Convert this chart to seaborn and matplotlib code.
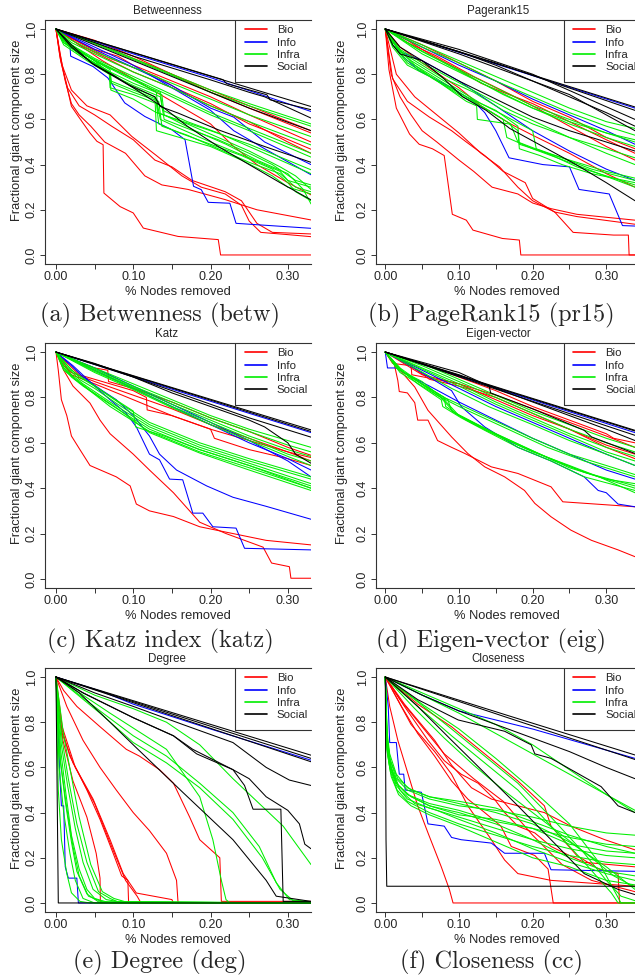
import matplotlib
matplotlib.use("Agg")
import matplotlib.pyplot as plt
from matplotlib.lines import Line2D
import seaborn as sns
import pandas as pd

# ---------------- data: (x, y) points of each curve ----------------
# (a) Betweenness
BETW_SOCIAL = [
    [(0, 1), (0.15, 0.843), (0.33, 0.657)],
    [(0, 1), (0.216, 0.776), (0.221, 0.758), (0.273, 0.709), (0.277, 0.687), (0.33, 0.643)],
    [(0, 1), (0.1, 0.88), (0.2, 0.775), (0.25, 0.72), (0.27, 0.70), (0.33, 0.606)],
    [(0, 1), (0.05, 0.93), (0.1, 0.86), (0.15, 0.79), (0.2, 0.72), (0.25, 0.65), (0.33, 0.55)],
    [(0, 1), (0.02, 0.93), (0.046, 0.85), (0.072, 0.80), (0.094, 0.754), (0.128, 0.70), (0.135, 0.657),
     (0.158, 0.628), (0.21, 0.554), (0.27, 0.48), (0.33, 0.41)],
    [(0, 1), (0.02, 0.92), (0.05, 0.84), (0.1, 0.74), (0.14, 0.65), (0.17, 0.57), (0.21, 0.48),
     (0.25, 0.40), (0.29, 0.32), (0.33, 0.244)],
]
BETW_INFO = [
    [(0, 1), (0.1, 0.89), (0.2, 0.785), (0.33, 0.635)],
    [(0, 1), (0.018, 0.93), (0.019, 0.88), (0.048, 0.834), (0.067, 0.784), (0.089, 0.673), (0.115, 0.613),
     (0.15, 0.554), (0.167, 0.51), (0.178, 0.304), (0.188, 0.289), (0.197, 0.233), (0.225, 0.229),
     (0.233, 0.14), (0.33, 0.118)],
    [(0, 1), (0.05, 0.91), (0.1, 0.83), (0.15, 0.75), (0.17, 0.71), (0.2, 0.65), (0.23, 0.61),
     (0.27, 0.50), (0.33, 0.40)],
    [(0, 1), (0.05, 0.92), (0.1, 0.84), (0.15, 0.74), (0.2, 0.64), (0.23, 0.55), (0.27, 0.47), (0.33, 0.355)],
]
BETW_BIO = [
    [(0, 1), (0.005, 0.894), (0.012, 0.776), (0.02, 0.658), (0.029, 0.613), (0.044, 0.54), (0.053, 0.503),
     (0.061, 0.488), (0.062, 0.274), (0.083, 0.214), (0.1, 0.186), (0.113, 0.119), (0.158, 0.082),
     (0.21, 0.068), (0.213, 0.0), (0.34, 0.0)],
    [(0, 1), (0.005, 0.88), (0.012, 0.77), (0.02, 0.67), (0.03, 0.62), (0.045, 0.57), (0.063, 0.50),
     (0.09, 0.45), (0.115, 0.35), (0.137, 0.31), (0.171, 0.29), (0.219, 0.245), (0.26, 0.20), (0.33, 0.155)],
    [(0, 1), (0.006, 0.86), (0.015, 0.74), (0.03, 0.66), (0.05, 0.62), (0.072, 0.57), (0.1, 0.51),
     (0.128, 0.42), (0.15, 0.39), (0.176, 0.33), (0.219, 0.28), (0.24, 0.24), (0.26, 0.14), (0.28, 0.10),
     (0.33, 0.093)],
    [(0, 1), (0.008, 0.84), (0.02, 0.73), (0.04, 0.66), (0.07, 0.62), (0.098, 0.525), (0.13, 0.44),
     (0.163, 0.35), (0.188, 0.30), (0.219, 0.27), (0.24, 0.22), (0.25, 0.15), (0.265, 0.10), (0.30, 0.09),
     (0.33, 0.081)],
    [(0, 1), (0.03, 0.93), (0.06, 0.86), (0.1, 0.78), (0.15, 0.68), (0.2, 0.58), (0.23, 0.48), (0.26, 0.40),
     (0.3, 0.32), (0.33, 0.266)],
    [(0, 1), (0.05, 0.95), (0.1, 0.88), (0.15, 0.80), (0.2, 0.72), (0.25, 0.65), (0.33, 0.54)],
    [(0, 1), (0.02, 0.96), (0.05, 0.91), (0.08, 0.88), (0.1, 0.84), (0.15, 0.77), (0.2, 0.70), (0.25, 0.62),
     (0.33, 0.50)],
    [(0, 1), (0.03, 0.94), (0.07, 0.87), (0.1, 0.83), (0.13, 0.79), (0.16, 0.73), (0.2, 0.67), (0.25, 0.58),
     (0.28, 0.54), (0.33, 0.468)],
    [(0, 1), (0.03, 0.93), (0.06, 0.88), (0.1, 0.81), (0.15, 0.74), (0.2, 0.66), (0.25, 0.59), (0.3, 0.50),
     (0.33, 0.45)],
    [(0, 1), (0.05, 0.94), (0.1, 0.87), (0.15, 0.80), (0.2, 0.73), (0.25, 0.66), (0.33, 0.55)],
]
BETW_INFRA = [
    [(0, 1), (0.05, 0.94), (0.1, 0.87), (0.15, 0.80), (0.2, 0.73), (0.25, 0.67), (0.33, 0.58)],
    [(0, 1), (0.05, 0.935), (0.1, 0.865), (0.15, 0.795), (0.2, 0.72), (0.25, 0.66), (0.33, 0.57)],
    [(0, 1), (0.02, 0.95), (0.05, 0.90), (0.1, 0.83), (0.15, 0.76), (0.2, 0.69), (0.25, 0.62), (0.33, 0.524)],
    [(0, 1), (0.02, 0.94), (0.05, 0.89), (0.1, 0.81), (0.15, 0.74), (0.2, 0.66), (0.25, 0.59), (0.33, 0.487)],
    [(0, 1), (0.02, 0.93), (0.05, 0.87), (0.1, 0.79), (0.15, 0.71), (0.2, 0.63), (0.25, 0.56), (0.33, 0.45)],
    [(0, 1), (0.02, 0.925), (0.05, 0.86), (0.1, 0.78), (0.15, 0.70), (0.2, 0.62), (0.25, 0.55), (0.33, 0.433)],
    [(0, 1), (0.02, 0.93), (0.05, 0.86), (0.07, 0.80), (0.071, 0.73), (0.1, 0.69), (0.13, 0.63), (0.2, 0.55),
     (0.25, 0.49), (0.33, 0.377)],
    [(0, 1), (0.01, 0.95), (0.03, 0.90), (0.07, 0.82), (0.071, 0.77), (0.1, 0.73), (0.13, 0.69), (0.135, 0.60),
     (0.16, 0.56), (0.2, 0.50), (0.25, 0.43), (0.29, 0.37), (0.3, 0.33), (0.33, 0.30)],
    [(0, 1), (0.01, 0.95), (0.03, 0.89), (0.07, 0.81), (0.072, 0.76), (0.1, 0.72), (0.133, 0.68), (0.137, 0.57),
     (0.17, 0.53), (0.21, 0.47), (0.25, 0.41), (0.29, 0.36), (0.31, 0.30), (0.33, 0.28)],
    [(0, 1), (0.01, 0.94), (0.03, 0.89), (0.06, 0.83), (0.1, 0.74), (0.128, 0.70), (0.13, 0.55), (0.16, 0.52),
     (0.2, 0.48), (0.24, 0.42), (0.28, 0.35), (0.30, 0.30), (0.33, 0.27)],
    [(0, 1), (0.01, 0.94), (0.04, 0.87), (0.07, 0.80), (0.1, 0.75), (0.135, 0.70), (0.14, 0.60), (0.17, 0.56),
     (0.21, 0.51), (0.25, 0.45), (0.28, 0.40), (0.31, 0.33), (0.33, 0.31)],
    [(0, 1), (0.01, 0.93), (0.04, 0.86), (0.069, 0.80), (0.07, 0.74), (0.1, 0.71), (0.13, 0.67), (0.133, 0.58),
     (0.16, 0.54), (0.2, 0.49), (0.24, 0.44), (0.28, 0.38), (0.3, 0.32), (0.31, 0.28), (0.33, 0.24)],
    [(0, 1), (0.015, 0.93), (0.04, 0.87), (0.07, 0.81), (0.1, 0.76), (0.137, 0.71), (0.14, 0.62), (0.18, 0.55),
     (0.22, 0.49), (0.26, 0.42), (0.3, 0.36), (0.32, 0.29), (0.33, 0.226)],
    [(0, 1), (0.01, 0.95), (0.03, 0.90), (0.07, 0.83), (0.1, 0.78), (0.13, 0.72), (0.132, 0.63), (0.17, 0.58),
     (0.21, 0.52), (0.25, 0.46), (0.29, 0.39), (0.31, 0.35), (0.33, 0.29)],
    [(0, 1), (0.02, 0.93), (0.05, 0.86), (0.09, 0.79), (0.12, 0.74), (0.135, 0.72), (0.138, 0.64), (0.17, 0.59),
     (0.21, 0.54), (0.25, 0.48), (0.29, 0.42), (0.33, 0.36)],
]

# (b) Pagerank15
PR15_SOCIAL = [
    [(0, 1), (0.17, 0.827), (0.339, 0.655)],
    [(0, 1), (0.15, 0.85), (0.339, 0.64)],
    [(0, 1), (0.1, 0.91), (0.2, 0.80), (0.339, 0.60)],
    [(0, 1), (0.05, 0.95), (0.1, 0.90), (0.15, 0.84), (0.2, 0.77), (0.25, 0.70), (0.3, 0.63), (0.339, 0.57)],
    [(0, 1), (0.1, 0.89), (0.2, 0.77), (0.25, 0.71), (0.3, 0.62), (0.339, 0.55)],
    [(0, 1), (0.02, 0.92), (0.05, 0.86), (0.1, 0.77), (0.15, 0.69), (0.2, 0.61), (0.25, 0.55), (0.3, 0.50),
     (0.339, 0.46)],
    [(0, 1), (0.01, 0.93), (0.02, 0.89), (0.05, 0.86), (0.078, 0.785), (0.105, 0.70), (0.137, 0.64),
     (0.169, 0.56), (0.214, 0.48), (0.259, 0.40), (0.3, 0.32), (0.339, 0.24)],
]
PR15_INFO = [
    [(0, 1), (0.17, 0.825), (0.339, 0.65)],
    [(0, 1), (0.01, 0.95), (0.02, 0.89), (0.046, 0.815), (0.09, 0.74), (0.12, 0.68), (0.135, 0.63),
     (0.15, 0.55), (0.168, 0.43), (0.214, 0.40), (0.25, 0.39), (0.263, 0.29), (0.304, 0.27), (0.322, 0.13),
     (0.339, 0.128)],
    [(0, 1), (0.05, 0.92), (0.1, 0.84), (0.15, 0.77), (0.2, 0.69), (0.25, 0.62), (0.3, 0.55), (0.339, 0.49)],
    [(0, 1), (0.02, 0.90), (0.05, 0.86), (0.1, 0.77), (0.15, 0.66), (0.2, 0.55), (0.25, 0.46), (0.3, 0.38),
     (0.339, 0.33)],
]
PR15_BIO = [
    [(0, 1), (0.005, 0.82), (0.015, 0.65), (0.033, 0.535), (0.046, 0.49), (0.064, 0.47), (0.08, 0.44),
     (0.091, 0.18), (0.11, 0.154), (0.119, 0.11), (0.159, 0.073), (0.182, 0.066), (0.184, 0.0), (0.339, 0.0)],
    [(0, 1), (0.008, 0.80), (0.02, 0.70), (0.035, 0.62), (0.05, 0.55), (0.07, 0.50), (0.1, 0.42), (0.12, 0.37),
     (0.145, 0.30), (0.18, 0.27), (0.2, 0.23), (0.225, 0.205), (0.26, 0.18), (0.339, 0.154)],
    [(0, 1), (0.01, 0.78), (0.03, 0.68), (0.06, 0.61), (0.09, 0.55), (0.11, 0.50), (0.135, 0.44), (0.16, 0.37),
     (0.19, 0.32), (0.2, 0.25), (0.23, 0.19), (0.26, 0.17), (0.339, 0.136)],
    [(0, 1), (0.015, 0.80), (0.04, 0.70), (0.07, 0.62), (0.1, 0.54), (0.13, 0.45), (0.155, 0.39), (0.18, 0.30),
     (0.2, 0.24), (0.23, 0.19), (0.255, 0.10), (0.31, 0.088), (0.33, 0.088), (0.331, 0.0), (0.339, 0.0)],
    [(0, 1), (0.05, 0.93), (0.1, 0.85), (0.15, 0.77), (0.2, 0.68), (0.25, 0.61), (0.3, 0.52), (0.339, 0.47)],
    [(0, 1), (0.03, 0.95), (0.06, 0.89), (0.1, 0.82), (0.13, 0.76), (0.16, 0.72), (0.2, 0.67), (0.25, 0.59),
     (0.3, 0.51), (0.339, 0.45)],
    [(0, 1), (0.03, 0.94), (0.07, 0.88), (0.12, 0.79), (0.17, 0.71), (0.2, 0.66), (0.25, 0.57), (0.3, 0.48),
     (0.339, 0.42)],
    [(0, 1), (0.02, 0.92), (0.05, 0.85), (0.1, 0.74), (0.13, 0.66), (0.17, 0.58), (0.2, 0.53), (0.25, 0.45),
     (0.3, 0.36), (0.339, 0.30)],
]
PR15_INFRA = [
    [(0, 1), (0.05, 0.90), (0.1, 0.82), (0.15, 0.74), (0.2, 0.66), (0.25, 0.60), (0.3, 0.54), (0.339, 0.50)],
    [(0, 1), (0.05, 0.89), (0.1, 0.81), (0.15, 0.73), (0.2, 0.65), (0.25, 0.58), (0.3, 0.52), (0.339, 0.48)],
    [(0, 1), (0.04, 0.92), (0.08, 0.85), (0.12, 0.78), (0.16, 0.71), (0.2, 0.65), (0.25, 0.59), (0.3, 0.54),
     (0.339, 0.51)],
    [(0, 1), (0.05, 0.92), (0.1, 0.85), (0.15, 0.77), (0.2, 0.70), (0.25, 0.63), (0.3, 0.57), (0.339, 0.53)],
    [(0, 1), (0.05, 0.93), (0.1, 0.86), (0.15, 0.79), (0.2, 0.72), (0.25, 0.65), (0.3, 0.59), (0.339, 0.56)],
    [(0, 1), (0.01, 0.93), (0.03, 0.85), (0.064, 0.785), (0.11, 0.68), (0.124, 0.66), (0.125, 0.60),
     (0.168, 0.58), (0.18, 0.55), (0.182, 0.47), (0.21, 0.44), (0.24, 0.40), (0.28, 0.36), (0.339, 0.32)],
    [(0, 1), (0.01, 0.92), (0.03, 0.84), (0.06, 0.79), (0.1, 0.71), (0.14, 0.64), (0.17, 0.58), (0.18, 0.50),
     (0.22, 0.45), (0.26, 0.39), (0.3, 0.35), (0.339, 0.31)],
    [(0, 1), (0.01, 0.94), (0.035, 0.86), (0.07, 0.79), (0.1, 0.73), (0.13, 0.67), (0.16, 0.62), (0.2, 0.55),
     (0.205, 0.47), (0.24, 0.43), (0.28, 0.38), (0.339, 0.33)],
    [(0, 1), (0.015, 0.92), (0.04, 0.84), (0.065, 0.78), (0.11, 0.70), (0.15, 0.64), (0.18, 0.57),
     (0.182, 0.49), (0.22, 0.45), (0.27, 0.40), (0.3, 0.37), (0.339, 0.34)],
    [(0, 1), (0.01, 0.93), (0.03, 0.86), (0.06, 0.80), (0.1, 0.72), (0.14, 0.64), (0.16, 0.60), (0.165, 0.52),
     (0.2, 0.47), (0.25, 0.41), (0.29, 0.36), (0.339, 0.30)],
    [(0, 1), (0.02, 0.90), (0.05, 0.84), (0.08, 0.78), (0.12, 0.72), (0.16, 0.64), (0.2, 0.58), (0.25, 0.52),
     (0.3, 0.45), (0.339, 0.40)],
    [(0, 1), (0.02, 0.91), (0.05, 0.85), (0.09, 0.78), (0.13, 0.71), (0.17, 0.64), (0.21, 0.58), (0.25, 0.52),
     (0.3, 0.47), (0.339, 0.43)],
]

# (c) Katz
KATZ_SOCIAL = [
    [(0, 1), (0.17, 0.823), (0.33, 0.657)],
    [(0, 1), (0.17, 0.82), (0.33, 0.65)],
    [(0, 1), (0.1, 0.89), (0.2, 0.77), (0.25, 0.71), (0.33, 0.625)],
    [(0, 1), (0.05, 0.95), (0.1, 0.89), (0.15, 0.82), (0.2, 0.76), (0.25, 0.70), (0.27, 0.67), (0.3, 0.60),
     (0.31, 0.55), (0.33, 0.51)],
]
KATZ_INFO = [
    [(0, 1), (0.17, 0.815), (0.33, 0.645)],
    [(0, 1), (0.02, 0.94), (0.035, 0.89), (0.06, 0.83), (0.078, 0.79), (0.1, 0.72), (0.121, 0.63),
     (0.134, 0.55), (0.156, 0.48), (0.195, 0.41), (0.229, 0.36), (0.272, 0.32), (0.33, 0.263)],
    [(0, 1), (0.022, 0.94), (0.05, 0.85), (0.07, 0.79), (0.091, 0.73), (0.104, 0.67), (0.121, 0.55),
     (0.134, 0.525), (0.147, 0.44), (0.164, 0.437), (0.177, 0.29), (0.19, 0.29), (0.203, 0.23),
     (0.233, 0.224), (0.244, 0.135), (0.33, 0.128)],
    [(0, 1), (0.05, 0.93), (0.1, 0.85), (0.15, 0.77), (0.2, 0.69), (0.25, 0.61), (0.3, 0.52), (0.33, 0.45)],
    [(0, 1), (0.05, 0.92), (0.1, 0.84), (0.15, 0.76), (0.2, 0.68), (0.25, 0.60), (0.3, 0.53), (0.33, 0.48)],
]
KATZ_BIO = [
    [(0, 1), (0.003, 0.92), (0.007, 0.79), (0.014, 0.72), (0.02, 0.63), (0.031, 0.57), (0.044, 0.50),
     (0.078, 0.45), (0.096, 0.41), (0.104, 0.33), (0.121, 0.30), (0.152, 0.275), (0.186, 0.23),
     (0.229, 0.20), (0.272, 0.17), (0.33, 0.15)],
    [(0, 1), (0.01, 0.92), (0.022, 0.85), (0.044, 0.775), (0.057, 0.70), (0.07, 0.64), (0.1, 0.55),
     (0.121, 0.48), (0.152, 0.38), (0.186, 0.25), (0.22, 0.20), (0.268, 0.14), (0.279, 0.07),
     (0.302, 0.054), (0.304, 0.003), (0.33, 0.003)],
    [(0, 1), (0.02, 0.97), (0.05, 0.93), (0.067, 0.92), (0.068, 0.87), (0.1, 0.84), (0.15, 0.78), (0.2, 0.71),
     (0.25, 0.65), (0.3, 0.58), (0.33, 0.545)],
    [(0, 1), (0.03, 0.90), (0.06, 0.87), (0.1, 0.83), (0.117, 0.80), (0.118, 0.745), (0.15, 0.72),
     (0.2, 0.66), (0.25, 0.61), (0.3, 0.56), (0.33, 0.52)],
    [(0, 1), (0.02, 0.90), (0.05, 0.86), (0.1, 0.79), (0.15, 0.72), (0.2, 0.66), (0.205, 0.62), (0.25, 0.57),
     (0.3, 0.53), (0.33, 0.50)],
    [(0, 1), (0.01, 0.94), (0.02, 0.91), (0.05, 0.87), (0.1, 0.81), (0.15, 0.75), (0.2, 0.68), (0.25, 0.62),
     (0.3, 0.56), (0.33, 0.535)],
]
KATZ_INFRA = [
    [(0, 1), (0.05, 0.93), (0.1, 0.86), (0.15, 0.79), (0.2, 0.72), (0.25, 0.66), (0.3, 0.61), (0.33, 0.58)],
    [(0, 1), (0.05, 0.925), (0.1, 0.85), (0.15, 0.78), (0.2, 0.71), (0.25, 0.65), (0.3, 0.59), (0.33, 0.56)],
    [(0, 1), (0.05, 0.92), (0.1, 0.845), (0.15, 0.77), (0.2, 0.70), (0.25, 0.63), (0.3, 0.57), (0.33, 0.54)],
    [(0, 1), (0.05, 0.915), (0.1, 0.84), (0.15, 0.76), (0.2, 0.69), (0.25, 0.62), (0.3, 0.55), (0.33, 0.52)],
    [(0, 1), (0.05, 0.91), (0.1, 0.835), (0.15, 0.755), (0.2, 0.68), (0.25, 0.61), (0.3, 0.54), (0.33, 0.50)],
    [(0, 1), (0.01, 0.94), (0.02, 0.90), (0.035, 0.86), (0.07, 0.78), (0.121, 0.67), (0.186, 0.58),
     (0.25, 0.51), (0.33, 0.42)],
    [(0, 1), (0.01, 0.93), (0.02, 0.89), (0.035, 0.85), (0.07, 0.77), (0.121, 0.66), (0.186, 0.57),
     (0.25, 0.50), (0.33, 0.41)],
    [(0, 1), (0.01, 0.93), (0.025, 0.88), (0.04, 0.84), (0.07, 0.76), (0.121, 0.65), (0.186, 0.56),
     (0.25, 0.49), (0.33, 0.40)],
    [(0, 1), (0.01, 0.92), (0.025, 0.88), (0.045, 0.83), (0.08, 0.75), (0.121, 0.645), (0.186, 0.555),
     (0.25, 0.48), (0.33, 0.39)],
    [(0, 1), (0.015, 0.93), (0.03, 0.88), (0.05, 0.84), (0.08, 0.77), (0.121, 0.68), (0.186, 0.59),
     (0.25, 0.52), (0.33, 0.44)],
    [(0, 1), (0.015, 0.94), (0.03, 0.89), (0.05, 0.85), (0.08, 0.78), (0.121, 0.69), (0.186, 0.60),
     (0.25, 0.53), (0.33, 0.45)],
    [(0, 1), (0.02, 0.92), (0.05, 0.85), (0.1, 0.74), (0.103, 0.67), (0.14, 0.63), (0.186, 0.57),
     (0.25, 0.50), (0.33, 0.40)],
]

# (d) Eigen-vector
EIG_SOCIAL = [
    [(0, 1), (0.17, 0.826), (0.339, 0.655)],
    [(0, 1), (0.17, 0.823), (0.339, 0.652)],
    [(0, 1), (0.17, 0.815), (0.339, 0.633)],
    [(0, 1), (0.1, 0.91), (0.141, 0.85), (0.143, 0.82), (0.2, 0.75), (0.27, 0.655), (0.28, 0.626),
     (0.339, 0.553)],
    [(0, 1), (0.1, 0.90), (0.2, 0.78), (0.3, 0.66), (0.339, 0.61)],
]
EIG_INFO = [
    [(0, 1), (0.17, 0.82), (0.339, 0.645)],
    [(0, 1), (0.044, 0.92), (0.09, 0.83), (0.103, 0.76), (0.135, 0.67), (0.18, 0.58), (0.225, 0.52),
     (0.27, 0.45), (0.289, 0.39), (0.3, 0.38), (0.316, 0.33), (0.339, 0.318)],
    [(0, 1), (0.003, 0.93), (0.015, 0.93), (0.03, 0.90), (0.06, 0.85), (0.1, 0.78), (0.15, 0.70),
     (0.2, 0.62), (0.25, 0.55), (0.3, 0.48), (0.339, 0.44)],
    [(0, 1), (0.05, 0.92), (0.1, 0.84), (0.15, 0.76), (0.2, 0.69), (0.25, 0.62), (0.3, 0.55), (0.339, 0.50)],
]
EIG_BIO = [
    [(0, 1), (0.012, 0.95), (0.017, 0.875), (0.019, 0.826), (0.03, 0.82), (0.04, 0.777), (0.044, 0.70),
     (0.058, 0.70), (0.071, 0.61), (0.09, 0.58), (0.108, 0.553), (0.144, 0.494), (0.18, 0.465),
     (0.225, 0.406), (0.241, 0.34), (0.339, 0.318)],
    [(0, 1), (0.02, 0.92), (0.04, 0.846), (0.058, 0.743), (0.09, 0.626), (0.112, 0.553), (0.135, 0.494),
     (0.162, 0.45), (0.189, 0.39), (0.203, 0.333), (0.225, 0.274), (0.252, 0.215), (0.28, 0.17),
     (0.316, 0.128), (0.339, 0.098)],
    [(0, 1), (0.05, 0.95), (0.1, 0.89), (0.15, 0.83), (0.2, 0.76), (0.25, 0.70), (0.3, 0.64), (0.31, 0.62),
     (0.339, 0.60)],
    [(0, 1), (0.02, 0.96), (0.05, 0.90), (0.1, 0.86), (0.15, 0.79), (0.2, 0.72), (0.25, 0.66), (0.3, 0.59),
     (0.339, 0.55)],
    [(0, 1), (0.03, 0.95), (0.06, 0.88), (0.1, 0.85), (0.15, 0.80), (0.2, 0.73), (0.25, 0.66), (0.3, 0.58),
     (0.339, 0.53)],
    [(0, 1), (0.01, 0.95), (0.035, 0.94), (0.036, 0.90), (0.1, 0.86), (0.15, 0.81), (0.2, 0.75), (0.25, 0.69),
     (0.3, 0.63), (0.339, 0.58)],
]
EIG_INFRA = [
    [(0, 1), (0.05, 0.95), (0.1, 0.88), (0.15, 0.81), (0.2, 0.74), (0.25, 0.68), (0.3, 0.62), (0.339, 0.58)],
    [(0, 1), (0.05, 0.94), (0.1, 0.87), (0.15, 0.80), (0.2, 0.73), (0.25, 0.66), (0.3, 0.60), (0.339, 0.56)],
    [(0, 1), (0.05, 0.93), (0.1, 0.86), (0.15, 0.78), (0.2, 0.71), (0.25, 0.64), (0.3, 0.58), (0.339, 0.54)],
    [(0, 1), (0.05, 0.925), (0.1, 0.85), (0.15, 0.77), (0.2, 0.70), (0.25, 0.63), (0.3, 0.56), (0.339, 0.52)],
    [(0, 1), (0.04, 0.93), (0.09, 0.84), (0.14, 0.76), (0.2, 0.68), (0.25, 0.61), (0.3, 0.55), (0.339, 0.50)],
    [(0, 1), (0.022, 0.92), (0.044, 0.86), (0.076, 0.79), (0.078, 0.76), (0.103, 0.71), (0.135, 0.655),
     (0.18, 0.58), (0.225, 0.52), (0.27, 0.45), (0.339, 0.39)],
    [(0, 1), (0.02, 0.92), (0.044, 0.87), (0.08, 0.80), (0.082, 0.76), (0.11, 0.70), (0.14, 0.65),
     (0.18, 0.59), (0.225, 0.53), (0.27, 0.47), (0.339, 0.41)],
    [(0, 1), (0.02, 0.93), (0.05, 0.86), (0.085, 0.79), (0.09, 0.74), (0.12, 0.69), (0.15, 0.64),
     (0.19, 0.58), (0.23, 0.52), (0.28, 0.46), (0.339, 0.40)],
    [(0, 1), (0.02, 0.91), (0.04, 0.87), (0.07, 0.81), (0.1, 0.76), (0.14, 0.70), (0.18, 0.64), (0.22, 0.58),
     (0.27, 0.52), (0.339, 0.45)],
    [(0, 1), (0.025, 0.91), (0.05, 0.86), (0.08, 0.80), (0.12, 0.74), (0.16, 0.68), (0.2, 0.62), (0.25, 0.55),
     (0.3, 0.50), (0.339, 0.46)],
    [(0, 1), (0.02, 0.92), (0.05, 0.87), (0.08, 0.79), (0.1, 0.72), (0.13, 0.67), (0.17, 0.61), (0.21, 0.55),
     (0.25, 0.49), (0.3, 0.44), (0.339, 0.42)],
    [(0, 1), (0.015, 0.93), (0.04, 0.88), (0.075, 0.80), (0.095, 0.73), (0.125, 0.68), (0.16, 0.62),
     (0.2, 0.56), (0.25, 0.50), (0.29, 0.45), (0.339, 0.38)],
]

# (e) Degree
DEG_SOCIAL = [
    [(0, 1), (0.17, 0.822), (0.33, 0.654)],
    [(0, 1), (0.17, 0.815), (0.33, 0.64)],
    [(0, 1), (0.17, 0.807), (0.33, 0.625)],
    [(0, 1), (0.05, 0.93), (0.1, 0.87), (0.164, 0.79), (0.229, 0.71), (0.272, 0.60), (0.302, 0.544),
     (0.33, 0.52)],
    [(0, 1), (0.035, 0.93), (0.1, 0.82), (0.152, 0.74), (0.182, 0.66), (0.229, 0.59), (0.25, 0.55),
     (0.272, 0.47), (0.3, 0.41), (0.315, 0.35), (0.322, 0.26), (0.33, 0.24)],
    [(0, 1), (0.035, 0.93), (0.1, 0.82), (0.152, 0.74), (0.177, 0.68), (0.229, 0.59), (0.244, 0.52),
     (0.255, 0.415), (0.291, 0.415), (0.294, 0.007), (0.33, 0.007)],
    [(0, 1), (0.03, 0.93), (0.07, 0.80), (0.1, 0.70), (0.164, 0.49), (0.229, 0.28), (0.272, 0.10),
     (0.285, 0.03), (0.33, 0.007)],
    [(0, 1), (0.003, 0.0), (0.33, 0.0)],
]
DEG_INFO = [
    [(0, 1), (0.061, 0.934), (0.1, 0.88), (0.2, 0.77), (0.33, 0.632)],
    [(0, 1), (0.005, 0.57), (0.007, 0.43), (0.01, 0.43), (0.012, 0.16), (0.016, 0.11), (0.027, 0.11),
     (0.029, 0.0), (0.33, 0.0)],
]
DEG_BIO = [
    [(0, 1), (0.003, 0.87), (0.009, 0.72), (0.022, 0.54), (0.04, 0.38), (0.052, 0.22), (0.057, 0.11),
     (0.0575, 0.0), (0.33, 0.0)],
    [(0, 1), (0.005, 0.80), (0.018, 0.65), (0.04, 0.50), (0.057, 0.37), (0.074, 0.22), (0.085, 0.12),
     (0.093, 0.10), (0.094, 0.0), (0.33, 0.0)],
    [(0, 1), (0.007, 0.76), (0.022, 0.62), (0.048, 0.46), (0.07, 0.28), (0.087, 0.13), (0.104, 0.044),
     (0.15, 0.015), (0.152, 0.0), (0.33, 0.0)],
    [(0, 1), (0.008, 0.78), (0.025, 0.60), (0.05, 0.44), (0.072, 0.25), (0.09, 0.10), (0.105, 0.03),
     (0.11, 0.0), (0.33, 0.0)],
    [(0, 1), (0.014, 0.87), (0.035, 0.72), (0.057, 0.60), (0.078, 0.50), (0.1, 0.40), (0.121, 0.32),
     (0.143, 0.22), (0.156, 0.10), (0.158, 0.0), (0.33, 0.0)],
    [(0, 1), (0.01, 0.94), (0.027, 0.87), (0.057, 0.78), (0.091, 0.68), (0.108, 0.65), (0.134, 0.59),
     (0.152, 0.53), (0.173, 0.38), (0.186, 0.28), (0.212, 0.20), (0.214, 0.007), (0.33, 0.007)],
]
DEG_INFRA = [
    [(0, 1), (0.003, 0.50), (0.007, 0.28), (0.014, 0.13), (0.02, 0.045), (0.031, 0.007), (0.044, 0.0),
     (0.33, 0.0)],
    [(0, 1), (0.004, 0.60), (0.01, 0.40), (0.018, 0.22), (0.025, 0.10), (0.035, 0.02), (0.05, 0.0), (0.33, 0.0)],
    [(0, 1), (0.005, 0.65), (0.012, 0.45), (0.02, 0.27), (0.027, 0.14), (0.04, 0.04), (0.055, 0.005),
     (0.33, 0.0)],
    [(0, 1), (0.006, 0.62), (0.014, 0.42), (0.022, 0.25), (0.03, 0.12), (0.042, 0.03), (0.06, 0.005),
     (0.33, 0.0)],
    [(0, 1), (0.007, 0.70), (0.015, 0.52), (0.025, 0.33), (0.035, 0.18), (0.048, 0.06), (0.065, 0.015),
     (0.085, 0.003), (0.33, 0.0)],
    [(0, 1), (0.008, 0.72), (0.016, 0.55), (0.027, 0.35), (0.04, 0.18), (0.055, 0.05), (0.07, 0.02),
     (0.08, 0.005), (0.33, 0.0)],
    [(0, 1), (0.01, 0.74), (0.02, 0.56), (0.03, 0.38), (0.045, 0.17), (0.06, 0.05), (0.075, 0.02),
     (0.09, 0.005), (0.33, 0.0)],
    [(0, 1), (0.006, 0.68), (0.013, 0.48), (0.02, 0.30), (0.03, 0.15), (0.04, 0.06), (0.05, 0.02),
     (0.07, 0.0), (0.33, 0.0)],
    [(0, 1), (0.05, 0.92), (0.1, 0.86), (0.143, 0.80), (0.186, 0.70), (0.229, 0.55), (0.294, 0.34),
     (0.33, 0.17)],
    [(0, 1), (0.057, 0.85), (0.1, 0.74), (0.143, 0.65), (0.186, 0.53), (0.229, 0.40), (0.263, 0.25),
     (0.285, 0.09), (0.302, 0.015), (0.33, 0.005)],
    [(0, 1), (0.057, 0.84), (0.1, 0.71), (0.143, 0.62), (0.186, 0.51), (0.229, 0.37), (0.267, 0.20),
     (0.29, 0.06), (0.307, 0.01), (0.33, 0.005)],
    [(0, 1), (0.035, 0.92), (0.07, 0.84), (0.143, 0.68), (0.186, 0.47), (0.203, 0.28), (0.214, 0.10),
     (0.22, 0.015), (0.225, 0.0), (0.33, 0.0)],
]

# (f) Closeness
CC_SOCIAL = [
    [(0, 1), (0.17, 0.826), (0.339, 0.655)],
    [(0, 1), (0.17, 0.816), (0.339, 0.635)],
    [(0, 1), (0.044, 0.90), (0.099, 0.81), (0.162, 0.76), (0.198, 0.70), (0.203, 0.66), (0.225, 0.64),
     (0.293, 0.515), (0.316, 0.43), (0.339, 0.40)],
    [(0, 1), (0.05, 0.92), (0.1, 0.85), (0.15, 0.79), (0.2, 0.73), (0.25, 0.67), (0.3, 0.60), (0.339, 0.55)],
    [(0, 1), (0.044, 0.87), (0.09, 0.72), (0.135, 0.575), (0.18, 0.43), (0.225, 0.28), (0.27, 0.13),
     (0.316, 0.06), (0.339, 0.037)],
    [(0, 1), (0.001, 0.28), (0.002, 0.074), (0.339, 0.074)],
]
CC_INFO = [
    [(0, 1), (0.05, 0.92), (0.1, 0.85), (0.2, 0.77), (0.339, 0.64)],
    [(0, 1), (0.004, 0.87), (0.006, 0.71), (0.015, 0.71), (0.019, 0.57), (0.025, 0.57), (0.027, 0.50),
     (0.049, 0.49), (0.058, 0.35), (0.08, 0.34), (0.09, 0.29), (0.103, 0.28), (0.144, 0.265), (0.162, 0.22),
     (0.216, 0.22), (0.225, 0.147), (0.339, 0.14)],
]
CC_BIO = [
    [(0, 1), (0.006, 0.87), (0.017, 0.72), (0.031, 0.57), (0.044, 0.43), (0.058, 0.31), (0.076, 0.16),
     (0.087, 0.06), (0.092, 0.0), (0.339, 0.0)],
    [(0, 1), (0.022, 0.87), (0.044, 0.75), (0.067, 0.65), (0.09, 0.54), (0.112, 0.46), (0.135, 0.40),
     (0.157, 0.34), (0.171, 0.25), (0.203, 0.21), (0.221, 0.15), (0.228, 0.0), (0.339, 0.0)],
    [(0, 1), (0.026, 0.88), (0.067, 0.72), (0.09, 0.61), (0.117, 0.51), (0.144, 0.46), (0.18, 0.43),
     (0.216, 0.40), (0.252, 0.34), (0.298, 0.28), (0.339, 0.235)],
    [(0, 1), (0.044, 0.88), (0.09, 0.78), (0.135, 0.66), (0.18, 0.54), (0.216, 0.43), (0.225, 0.34),
     (0.26, 0.21), (0.29, 0.15), (0.316, 0.13), (0.318, 0.0), (0.339, 0.0)],
    [(0, 1), (0.026, 0.87), (0.058, 0.72), (0.08, 0.63), (0.103, 0.57), (0.126, 0.53), (0.148, 0.46),
     (0.162, 0.40), (0.18, 0.34), (0.203, 0.31), (0.225, 0.25), (0.25, 0.21), (0.27, 0.18), (0.339, 0.16)],
    [(0, 1), (0.035, 0.79), (0.067, 0.67), (0.09, 0.57), (0.112, 0.43), (0.144, 0.28), (0.162, 0.19),
     (0.18, 0.13), (0.225, 0.10), (0.339, 0.074)],
    [(0, 1), (0.02, 0.90), (0.05, 0.78), (0.08, 0.66), (0.12, 0.55), (0.16, 0.45), (0.2, 0.30), (0.24, 0.17),
     (0.28, 0.10), (0.339, 0.05)],
]
CC_INFRA = [
    [(0, 1), (0.002, 0.75), (0.006, 0.64), (0.015, 0.55), (0.03, 0.50), (0.06, 0.46), (0.1, 0.43),
     (0.15, 0.41), (0.2, 0.38), (0.25, 0.34), (0.3, 0.31), (0.339, 0.30)],
    [(0, 1), (0.002, 0.72), (0.006, 0.62), (0.015, 0.53), (0.03, 0.48), (0.06, 0.44), (0.1, 0.41),
     (0.15, 0.36), (0.2, 0.33), (0.25, 0.29), (0.3, 0.26), (0.339, 0.25)],
    [(0, 1), (0.002, 0.70), (0.006, 0.60), (0.015, 0.52), (0.03, 0.46), (0.06, 0.42), (0.1, 0.38),
     (0.15, 0.33), (0.2, 0.28), (0.25, 0.24), (0.3, 0.21), (0.339, 0.20)],
    [(0, 1), (0.002, 0.68), (0.007, 0.58), (0.016, 0.50), (0.03, 0.45), (0.06, 0.40), (0.1, 0.35),
     (0.15, 0.30), (0.2, 0.25), (0.25, 0.21), (0.3, 0.18), (0.339, 0.17)],
    [(0, 1), (0.003, 0.70), (0.008, 0.60), (0.018, 0.52), (0.035, 0.47), (0.06, 0.43), (0.1, 0.40),
     (0.15, 0.35), (0.2, 0.28), (0.25, 0.20), (0.3, 0.14), (0.339, 0.12)],
    [(0, 1), (0.003, 0.66), (0.008, 0.56), (0.018, 0.48), (0.035, 0.43), (0.06, 0.39), (0.1, 0.34),
     (0.15, 0.27), (0.2, 0.20), (0.25, 0.16), (0.3, 0.10), (0.339, 0.08)],
    [(0, 1), (0.002, 0.74), (0.007, 0.63), (0.017, 0.55), (0.035, 0.50), (0.06, 0.47), (0.1, 0.44),
     (0.15, 0.40), (0.2, 0.35), (0.25, 0.27), (0.3, 0.16), (0.339, 0.06)],
    [(0, 1), (0.002, 0.71), (0.006, 0.61), (0.015, 0.53), (0.03, 0.48), (0.06, 0.43), (0.1, 0.39),
     (0.15, 0.37), (0.2, 0.33), (0.25, 0.26), (0.3, 0.23), (0.339, 0.22)],
    [(0, 1), (0.003, 0.69), (0.009, 0.58), (0.02, 0.50), (0.04, 0.44), (0.07, 0.41), (0.1, 0.37),
     (0.15, 0.31), (0.2, 0.24), (0.25, 0.18), (0.3, 0.13), (0.339, 0.10)],
    [(0, 1), (0.002, 0.77), (0.006, 0.66), (0.015, 0.57), (0.03, 0.51), (0.06, 0.47), (0.1, 0.45),
     (0.15, 0.42), (0.2, 0.36), (0.25, 0.30), (0.3, 0.25), (0.339, 0.22)],
    [(0, 1), (0.05, 0.93), (0.1, 0.86), (0.15, 0.79), (0.2, 0.70), (0.25, 0.59), (0.3, 0.48), (0.339, 0.40)],
    [(0, 1), (0.05, 0.92), (0.1, 0.84), (0.15, 0.75), (0.2, 0.66), (0.25, 0.57), (0.3, 0.48), (0.339, 0.41)],
    [(0, 1), (0.044, 0.87), (0.09, 0.74), (0.135, 0.62), (0.18, 0.50), (0.225, 0.34), (0.27, 0.18),
     (0.307, 0.044), (0.316, 0.0), (0.339, 0.0)],
    [(0, 1), (0.044, 0.89), (0.09, 0.77), (0.135, 0.65), (0.18, 0.53), (0.225, 0.38), (0.27, 0.22),
     (0.3, 0.10), (0.32, 0.03), (0.339, 0.01)],
    [(0, 1), (0.04, 0.86), (0.08, 0.73), (0.12, 0.61), (0.16, 0.50), (0.2, 0.40), (0.24, 0.30), (0.28, 0.20),
     (0.31, 0.12), (0.339, 0.07)],
    [(0, 1), (0.05, 0.88), (0.1, 0.77), (0.15, 0.64), (0.2, 0.50), (0.25, 0.35), (0.29, 0.18), (0.31, 0.06),
     (0.32, 0.0), (0.339, 0.0)],
]

CATEGORIES = ["Bio", "Info", "Infra", "Social"]
COLORS = ["#FF0000", "#0000FF", "#00EE00", "#000000"]
TITLES = ["Betweenness", "Pagerank15", "Katz", "Eigen-vector", "Degree", "Closeness"]
CAPTIONS = ["(a) Betwenness (betw)", "(b) PageRank15 (pr15)", "(c) Katz index (katz)",
            "(d) Eigen-vector (eig)", "(e) Degree (deg)", "(f) Closeness (cc)"]
X_TICKS = [0.0, 0.05, 0.10, 0.15, 0.20, 0.25, 0.30]
X_TICK_LABELS = ["0.00", "", "0.10", "", "0.20", "", "0.30"]
Y_TICKS = [0.0, 0.2, 0.4, 0.6, 0.8, 1.0]
Y_TICK_LABELS = ["0.0", "0.2", "0.4", "0.6", "0.8", "1.0"]

PANEL_DATA = [
    [BETW_BIO, BETW_INFO, BETW_INFRA, BETW_SOCIAL],
    [PR15_BIO, PR15_INFO, PR15_INFRA, PR15_SOCIAL],
    [KATZ_BIO, KATZ_INFO, KATZ_INFRA, KATZ_SOCIAL],
    [EIG_BIO, EIG_INFO, EIG_INFRA, EIG_SOCIAL],
    [DEG_BIO, DEG_INFO, DEG_INFRA, DEG_SOCIAL],
    [CC_BIO, CC_INFO, CC_INFRA, CC_SOCIAL],
]

# ---------------- styling ----------------
sns.set_theme(style="white")
plt.rcParams["font.family"] = ["Liberation Sans", "DejaVu Sans"]

W, H = 635, 977
fig = plt.figure(figsize=(W / 100, H / 100), dpi=100)

COLS = [
    dict(l=45, r=311, xmin=-0.0142, xmax=0.330, tx=167, xlx=178, ylx=17, cx=160, box=0.714, hx=0.752),
    dict(l=376, r=635, xmin=-0.0126, xmax=0.339, tx=498, xlx=507, ylx=342, cx=491, box=0.725, hx=0.761),
]
ROWS = [dict(t=20, b=264, cap=315), dict(t=343, b=588, cap=641), dict(t=668, b=912, cap=962)]

palette = dict(zip(CATEGORIES, COLORS))
serif = ["cmr10", "DejaVu Serif"]

for idx in range(6):
    col = COLS[idx % 2]
    row = ROWS[idx // 2]
    ax = fig.add_axes([col["l"] / W, 1 - row["b"] / H, (col["r"] - col["l"]) / W, (row["b"] - row["t"]) / H])

    recs = []
    for cat, curves in zip(CATEGORIES, PANEL_DATA[idx]):
        for ci, curve in enumerate(curves):
            for x, y in curve:
                recs.append({"cat": cat, "curve": f"{cat}{ci}", "x": x, "y": y})
    df = pd.DataFrame(recs)

    sns.lineplot(data=df, x="x", y="y", hue="cat", hue_order=CATEGORIES, palette=palette,
                 units="curve", estimator=None, sort=False, linewidth=0.75, legend=False, ax=ax)

    ax.set_xlim(col["xmin"], col["xmax"])
    ax.set_ylim(-0.04, 1.04)
    ax.set_xlabel("")
    ax.set_ylabel("")
    ax.set_xticks(X_TICKS)
    ax.set_xticklabels(X_TICK_LABELS)
    ax.set_yticks(Y_TICKS)
    ax.set_yticklabels(Y_TICK_LABELS, rotation=90, va="center")
    ax.tick_params(axis="both", which="both", direction="out", length=3.6, width=0.7,
                   color="#333333", labelsize=9, pad=1.5, bottom=True, left=True)
    for side in ["left", "bottom", "top"]:
        ax.spines[side].set_visible(True)
        ax.spines[side].set_color("#333333")
        ax.spines[side].set_linewidth(0.8)
    ax.spines["right"].set_visible(False)

    # legend box (right edge cropped like the reference)
    bx, by = col["box"], 0.747
    ax.plot([bx, bx, 1.0], [1.0, by, by], transform=ax.transAxes, color="#333333", lw=0.8,
            clip_on=False)
    handles = [Line2D([0], [0], color=c, lw=1.2) for c in COLORS]
    ax.legend(handles, CATEGORIES, loc="upper left", bbox_to_anchor=(col["hx"], 0.978),
              frameon=False, borderpad=0, borderaxespad=0, handlelength=1.9, handletextpad=0.9,
              labelspacing=0.2, fontsize=8.2)

    # texts
    fig.text(col["tx"] / W, 1 - (row["t"] - 9) / H, TITLES[idx], ha="center", va="center", fontsize=8.3)
    fig.text(col["xlx"] / W, 1 - (row["b"] + 28) / H, "% Nodes removed", ha="center", va="center",
             fontsize=9.3)
    fig.text(col["ylx"] / W, 1 - ((row["t"] + row["b"]) / 2 - 12) / H, "Fractional giant component size",
             ha="center", va="center", rotation=90, fontsize=9.3)
    fig.text(col["cx"] / W, 1 - row["cap"] / H, CAPTIONS[idx], ha="center", va="center",
             fontsize=17.5, family=serif)

fig.savefig("out.png", dpi=100)
